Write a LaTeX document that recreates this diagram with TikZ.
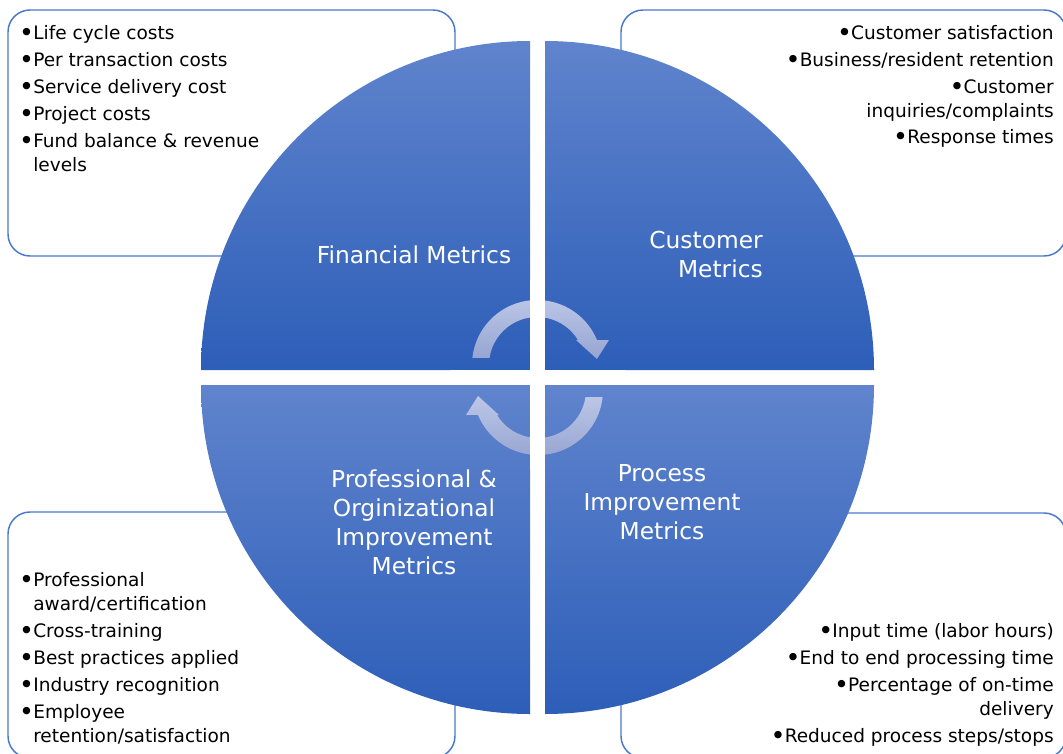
\documentclass[tikz,border=0pt]{standalone}
\usepackage{fontspec}
\setmainfont{DejaVu Sans}
\definecolor{boxblue}{RGB}{74,120,204}
\definecolor{quadtop}{RGB}{96,132,205}
\definecolor{quadbot}{RGB}{45,94,184}
\definecolor{arrtop}{RGB}{188,199,231}
\definecolor{arrbot}{RGB}{150,164,209}
% a larger list bullet in a fixed-width box
\newcommand{\bigbul}{\makebox[10pt][c]{\raisebox{-2pt}{\fontsize{19pt}{18pt}\selectfont •}}}
\begin{document}
\begin{tikzpicture}[x=0.75pt,y=-0.75pt,
  infobox/.style={draw=boxblue,line width=1.1pt,fill=white,rounded corners=16.5pt},
  quadrant/.style={top color=quadtop,bottom color=quadbot,draw=none},
  cyclearrow/.style={top color=arrtop,bottom color=arrbot,draw=none},
  listline/.style={inner sep=0pt,text=black,font=\fontsize{13.9pt}{18pt}\selectfont},
  qlabel/.style={inner sep=0pt,text=white,font=\fontsize{17.5pt}{21.75pt}\selectfont}]
\useasboundingbox (0,0) rectangle (1063,753);
\clip (0,0) rectangle (1063,753);

% rounded text panels behind the circle
\path[infobox] (8,10) rectangle (455,256);
\path[infobox] (621,10) rectangle (1066,256);
\path[infobox] (8,512) rectangle (455,758);
\path[infobox] (621,513) rectangle (1066,758);

% four quarter-circle segments
\shade[quadrant] (530,370) -- (201,370) arc[start angle=180,end angle=90,radius=246.75pt] -- cycle;
\shade[quadrant] (545,370) -- (545,41) arc[start angle=90,end angle=0,radius=246.75pt] -- cycle;
\shade[quadrant] (530,385) -- (201,385) arc[start angle=180,end angle=270,radius=246.75pt] -- cycle;
\shade[quadrant] (545,385) -- (874,385) arc[start angle=0,end angle=-90,radius=246.75pt] -- cycle;

% circular arrows in the centre
\shade[cyclearrow] ([shift={(537,365)}]173.8:48.75pt) arc[start angle=173.8,end angle=22.6,radius=48.75pt]
  -- (609,340) -- (597,359) -- (576,340)
  -- ([shift={(537,365)}]31.4:36pt) arc[start angle=31.4,end angle=171.6,radius=36pt] -- cycle;
\shade[cyclearrow] ([shift={(538,390)}]-6.2:48.75pt) arc[start angle=-6.2,end angle=-157.4,radius=48.75pt]
  -- (466,415) -- (478,396) -- (499,415)
  -- ([shift={(538,390)}]-148.6:36pt) arc[start angle=-148.6,end angle=-8.4,radius=36pt] -- cycle;

% gaps between the segments
\fill[white] (530,280) rectangle (545,470);
\fill[white] (450,370) rectangle (625,385);

% segment labels
\node[qlabel,anchor=base] (fin) at (414,263) {Financial Metrics};
\node[qlabel,anchor=base east] (cus1) at (763,248.5) {Customer};
\node[qlabel,anchor=base east] (cus2) at (763,277.5) {Metrics};
\node[qlabel,anchor=base] (pro1) at (662,481.5) {Process};
\node[qlabel,anchor=base] (pro2) at (662,510.5) {Improvement};
\node[qlabel,anchor=base] (pro3) at (662,539.5) {Metrics};
\node[qlabel,anchor=base] (org1) at (414,487.5) {Professional \&};
\node[qlabel,anchor=base] (org2) at (414,516.5) {Orginizational};
\node[qlabel,anchor=base] (org3) at (414,545.5) {Improvement};
\node[qlabel,anchor=base] (org4) at (414,574.5) {Metrics};

% financial items
\node[listline,anchor=base west] (f1) at (19.7,39) {\bigbul Life cycle costs};
\node[listline,anchor=base west] (f2) at (19.7,66) {\bigbul Per transaction costs};
\node[listline,anchor=base west] (f3) at (19.7,93) {\bigbul Service delivery cost};
\node[listline,anchor=base west] (f4) at (19.7,120) {\bigbul Project costs};
\node[listline,anchor=base west] (f5) at (19.7,147) {\bigbul Fund balance \& revenue};
\node[listline,anchor=base west] (f5b) at (33,171) {levels};

% customer items
\node[listline,anchor=base east] (c1) at (1054,39) {\bigbul Customer satisfaction};
\node[listline,anchor=base east] (c2) at (1054,66) {\bigbul Business/resident retention};
\node[listline,anchor=base east] (c3) at (1054,93) {\bigbul Customer};
\node[listline,anchor=base east] (c3b) at (1054,117) {inquiries/complaints};
\node[listline,anchor=base east] (c4) at (1054,143) {\bigbul Response times};

% professional items
\node[listline,anchor=base west] (o1) at (19.7,586) {\bigbul Professional};
\node[listline,anchor=base west] (o1b) at (33,610) {award/certification};
\node[listline,anchor=base west] (o2) at (19.7,637) {\bigbul Cross-training};
\node[listline,anchor=base west] (o3) at (19.7,664) {\bigbul Best practices applied};
\node[listline,anchor=base west] (o4) at (19.7,691) {\bigbul Industry recognition};
\node[listline,anchor=base west] (o5) at (19.7,718) {\bigbul Employee};
\node[listline,anchor=base west] (o5b) at (33,742) {retention/satisfaction};

% process items
\node[listline,anchor=base east] (p1) at (1054,637) {\bigbul Input time (labor hours)};
\node[listline,anchor=base east] (p2) at (1054,664) {\bigbul End to end processing time};
\node[listline,anchor=base east] (p3) at (1054,691) {\bigbul Percentage of on-time};
\node[listline,anchor=base east] (p3b) at (1054,715) {delivery};
\node[listline,anchor=base east] (p4) at (1054,742) {\bigbul Reduced process steps/stops};
\end{tikzpicture}
\end{document}
